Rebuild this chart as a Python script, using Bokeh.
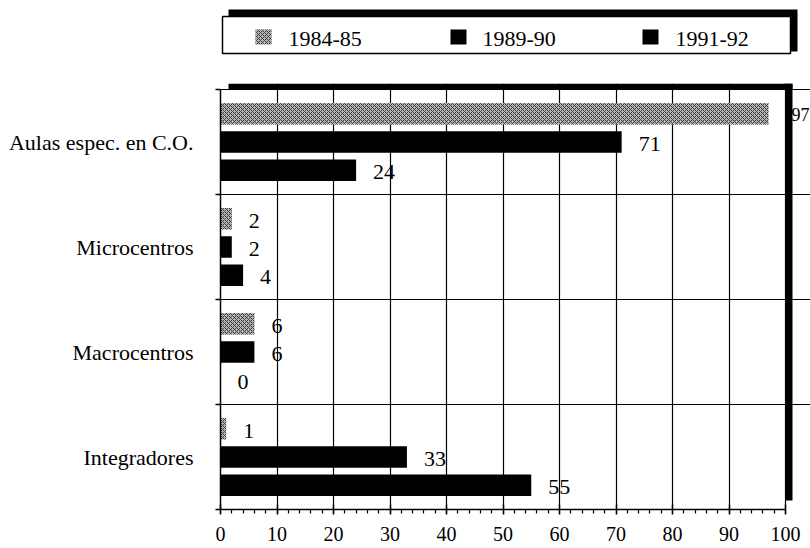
import numpy as np
from bokeh.plotting import figure
from bokeh.layouts import column
from bokeh.models import ColumnDataSource, Range1d, FixedTicker, LinearAxis, Grid
from bokeh.core.properties import value
from bokeh.embed import file_html
from bokeh.resources import INLINE

# ---------------- data ----------------
categories = ["Aulas espec. en C.O.", "Microcentros", "Macrocentros", "Integradores"]
series_names = ["1984-85", "1989-90", "1991-92"]
vals_1984_85 = [97, 2, 6, 1]
vals_1989_90 = [71, 2, 6, 33]
vals_1991_92 = [24, 4, 0, 55]
x_ticks = [0, 10, 20, 30, 40, 50, 60, 70, 80, 90, 100]

FONT = "Liberation Serif"
series_values = [vals_1984_85, vals_1989_90, vals_1991_92]
series_fill = ["#b4b4b4", "black", "black"]
series_hatch = ["diagonal_cross", None, None]

# ---------------- geometry ----------------
LEFT = 220            # frame left (px)
PX_X = 5.65           # px per x unit
PX_Y = 105.0          # px per category band
SHADOW = 7.0          # shadow thickness px
W = 810
frame_w = W - LEFT
x_end = frame_w / PX_X
y_end = 4 + 6 / PX_Y
sx = SHADOW / PX_X

n = len(categories)
centers = [n - i - 0.5 for i in range(n)]
offsets = [0.268, 0.0, -0.268]
bar_h = 0.205

p = figure(width=W, height=465, x_range=Range1d(0, x_end), y_range=Range1d(0, y_end),
           output_backend="svg", toolbar_location=None, x_axis_type=None, y_axis_type=None,
           min_border_left=LEFT, min_border_right=0, min_border_top=0, min_border_bottom=39)
p.outline_line_color = None
p.background_fill_color = "white"
p.border_fill_color = "white"

# grids (black lines)
vgrid = Grid(dimension=0, ticker=FixedTicker(ticks=x_ticks[1:]), bounds=(0, 4),
             grid_line_color="black", grid_line_width=1.2)
hgrid = Grid(dimension=1, ticker=FixedTicker(ticks=[1, 2, 3, 4]), bounds=(0, 100),
             grid_line_color="black", grid_line_width=1.2)
p.add_layout(vgrid)
p.add_layout(hgrid)

# shadow of the frame (top and right)
p.quad(left=[8 / PX_X, 100], right=[100 + sx, 100 + sx], bottom=[4, 9 / PX_Y], top=[y_end, y_end],
       fill_color="black", line_color=None)

# bars
for k, vals in enumerate(series_values):
    ys = [c + offsets[k] for c in centers]
    src = ColumnDataSource(dict(y=ys, right=vals))
    kw = dict(fill_color=series_fill[k], line_color=None)
    if series_hatch[k]:
        kw.update(hatch_pattern=series_hatch[k], hatch_color="#3c3c3c", hatch_scale=4, hatch_weight=1)
    p.hbar(y="y", left=0, right="right", height=bar_h, source=src, **kw)

# value labels
for k, vals in enumerate(series_values):
    v = np.array(vals, dtype=float)
    beyond = v + 18 / PX_X > 99
    ys = np.array([c + offsets[k] for c in centers])
    t = np.array([str(int(a)) for a in vals])
    inside = ~beyond
    if inside.any():
        src = ColumnDataSource(dict(x=v[inside], y=ys[inside], t=t[inside]))
        p.text(x="x", y="y", text="t", x_offset=17, y_offset=2, source=src,
               text_baseline="middle", text_align="left", text_color="black",
               text_font=value(FONT), text_font_size="22px")
    if beyond.any():
        # labels that would run into the frame's shadow are set just beyond it
        src = ColumnDataSource(dict(x=[x_end] * int(beyond.sum()), y=ys[beyond], t=t[beyond]))
        p.text(x="x", y="y", text="t", x_offset=-1, y_offset=1, source=src,
               text_baseline="middle", text_align="right", text_color="black",
               text_font=value(FONT), text_font_size="18px")

# axes
xaxis = LinearAxis(ticker=FixedTicker(ticks=x_ticks, minor_ticks=list(range(0, 101, 2))),
                   bounds=(0, 100))
xaxis.axis_line_color = "black"
xaxis.axis_line_width = 1.5
xaxis.major_tick_line_color = "black"
xaxis.major_tick_line_width = 1.5
xaxis.major_tick_in = 5
xaxis.major_tick_out = 5
xaxis.minor_tick_line_color = "black"
xaxis.minor_tick_line_width = 1.2
xaxis.minor_tick_in = 0
xaxis.minor_tick_out = 4
xaxis.major_label_text_font = FONT
xaxis.major_label_text_font_size = "20px"
xaxis.major_label_text_color = "black"
xaxis.major_label_standoff = 12
p.add_layout(xaxis, "below")

yaxis = LinearAxis(ticker=FixedTicker(ticks=centers, minor_ticks=[0, 1, 2, 3, 4]), bounds=(0, 4),
                   major_label_overrides={c: name for c, name in zip(centers, categories)})
yaxis.axis_line_color = "black"
yaxis.axis_line_width = 1.5
yaxis.major_tick_in = 0
yaxis.major_tick_out = 0
yaxis.minor_tick_line_color = "black"
yaxis.minor_tick_line_width = 1.5
yaxis.minor_tick_in = 0
yaxis.minor_tick_out = 5
yaxis.major_label_text_font = FONT
yaxis.major_label_text_font_size = "22px"
yaxis.major_label_text_color = "black"
yaxis.major_label_standoff = 22
p.add_layout(yaxis, "left")

# ---------------- legend (separate strip, page-pixel coordinates) ----------------
lf = figure(width=W, height=83, x_range=Range1d(LEFT, W), y_range=Range1d(83, 0),
            output_backend="svg", toolbar_location=None, x_axis_type=None, y_axis_type=None,
            min_border_left=LEFT, min_border_right=0, min_border_top=0, min_border_bottom=0)
lf.outline_line_color = None
lf.quad(left=[228], right=[797], top=[9], bottom=[51], fill_color="black", line_color=None)
lf.quad(left=[222], right=[790], top=[16], bottom=[53], fill_color="white",
        line_color="black", line_width=1.5)
sw_x = [255, 450, 642]
tx_x = [288, 482, 675]
for k in range(3):
    kw = dict(fill_color=series_fill[k], line_color=None)
    if series_hatch[k]:
        kw.update(hatch_pattern=series_hatch[k], hatch_color="#3c3c3c", hatch_scale=4, hatch_weight=1)
    lf.quad(left=[sw_x[k]], right=[sw_x[k] + 16], top=[29], bottom=[44], **kw)
lf.text(x=tx_x, y=[38] * 3, text=series_names, text_baseline="middle", text_align="left",
        text_font=value(FONT), text_font_size="22px", text_color="black")

layout = column(lf, p, spacing=0)
open("out.html", "w").write(file_html(layout, INLINE))
